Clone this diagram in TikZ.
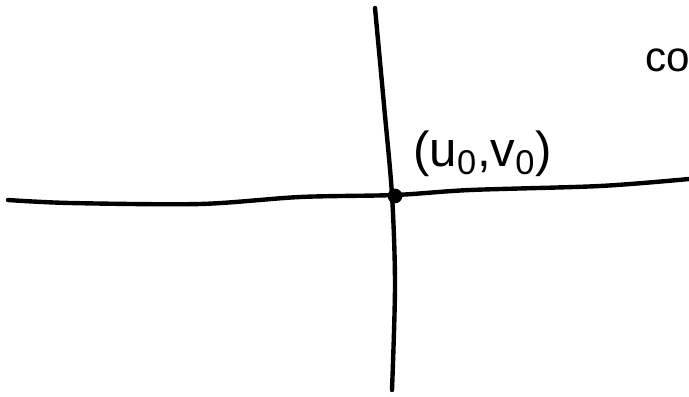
\documentclass[tikz,border=0pt]{standalone}
\usepackage{fontspec}
\setmainfont{Liberation Sans}
\begin{document}
\begin{tikzpicture}[x=0.02cm, y=-0.02cm,
    axis/.style={line width=2.5pt, line cap=round},
    hand/.style={font=\fontsize{28}{32}\selectfont, inner sep=0pt}]
            \useasboundingbox (0,0) rectangle (689,396);
            \clip (0,0) rectangle (689,396);

            % Horizontal axis
            \draw[axis] plot[smooth] coordinates {(8,200) (70,203) (200,204) (300,197) (395,195) (470,190) (600,186) (689,179)};

            % Vertical axis
            \draw[axis] plot[smooth] coordinates {(375,8) (384,105) (392,195) (395,285) (392,390)};

            % The point (u_0,v_0)
            \coordinate (o) at (395,196);
            \fill (o) circle (4.2pt);
            \node[hand, anchor=base west] (ptlabel) at (413,166) {(u\textsubscript{0},v\textsubscript{0})};

            % Text at the top right
            \node[hand, anchor=base west, font=\fontsize{24}{28}\selectfont] (co) at (645,71) {co};
        \end{tikzpicture}
\end{document}
